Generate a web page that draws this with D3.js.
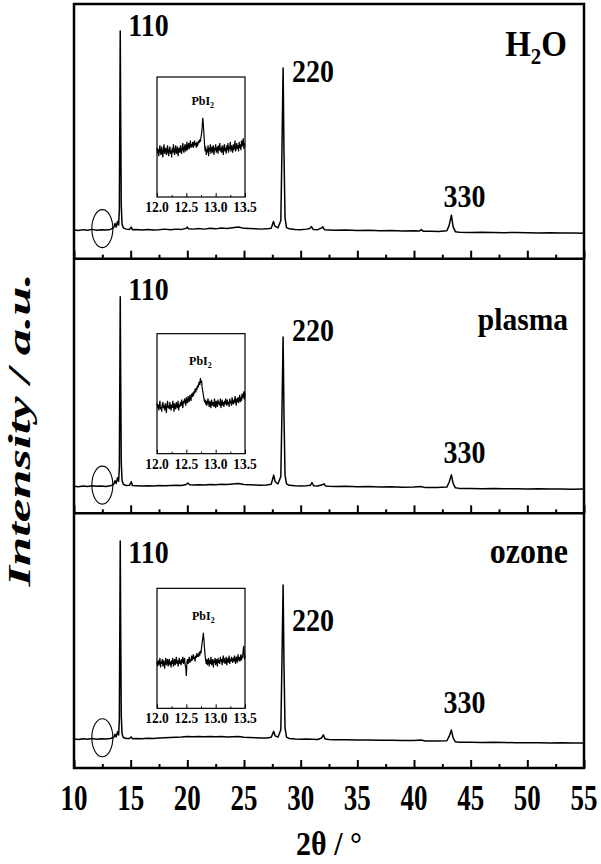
<!DOCTYPE html>
<html>
<head>
<meta charset="utf-8">
<script src="https://cdn.jsdelivr.net/npm/d3@7"></script>
<style>
  html, body { margin: 0; padding: 0; background: #fff; }
  svg { display: block; font-family: "Liberation Serif", "Times New Roman", serif; }
</style>
</head>
<body>
<svg id="chart" width="601" height="864"></svg>
<script>
// ---- data -------------------------------------------------------------
// Sample treatments, top to bottom
const samples = ["H2O", "plasma", "ozone"];

// Full XRD scans: [2θ (deg), intensity (a.u., 0-1000 per panel)]
const h2oScan = [
  [10.0,113],[10.4,111],[10.8,114],[11.2,112],[11.6,115],[12.0,112],[12.4,114],[12.8,113],[13.2,115],[13.5,121],
  [13.62,138],[13.72,124],[13.84,146],[13.94,132],[14.0,190],[14.04,520],[14.08,894],[14.12,560],[14.17,210],[14.24,136],
  [14.35,121],[14.6,116],[14.9,115],[15.05,124],[15.15,114],[15.5,115],[16.0,113],[16.5,115],[17.0,113],[17.5,114],
  [18.0,116],[18.5,114],[19.0,116],[19.5,115],[19.9,119],[20.0,124],[20.1,117],[20.5,116],[21.0,118],[21.5,116],
  [22.0,119],[22.5,117],[23.0,120],[23.5,118],[24.0,121],[24.5,124],[25.0,119],[25.5,118],[26.0,117],[26.5,116],
  [27.0,117],[27.4,119],[27.6,146],[27.72,128],[28.0,121],[28.25,150],[28.35,430],[28.45,749],[28.53,410],[28.62,160],
  [28.75,122],[29.0,117],[29.5,115],[30.0,114],[30.5,116],[30.8,118],[30.95,126],[31.1,115],[31.5,114],[31.85,121],
  [31.95,125],[32.1,114],[32.5,113],[33.0,112],[34.0,113],[35.0,111],[36.0,112],[37.0,110],[38.0,111],[39.0,109],
  [40.0,110],[40.5,109],[40.65,114],[40.8,108],[41.5,108],[42.2,107],[42.9,110],[43.1,130],[43.3,171],[43.45,126],
  [43.65,106],[44.0,104],[45.0,103],[46.0,104],[47.0,103],[48.0,102],[49.0,103],[50.0,102],[51.0,101],[52.0,102],
  [53.0,101],[54.0,101],[55.0,100]
];
const plasmaScan = [
  [10.0,106],[10.4,104],[10.8,107],[11.2,105],[11.6,108],[12.0,106],[12.4,107],[12.8,105],[13.2,108],[13.5,113],
  [13.62,128],[13.72,117],[13.84,140],[13.94,126],[14.0,180],[14.04,500],[14.08,850],[14.12,530],[14.17,200],[14.24,130],
  [14.35,114],[14.6,109],[14.9,110],[15.05,124],[15.15,109],[15.5,108],[16.0,107],[16.5,108],[17.0,107],[17.5,109],
  [18.0,108],[18.5,109],[19.0,110],[19.5,109],[19.9,113],[20.05,119],[20.2,112],[20.5,111],[21.0,112],[21.5,111],
  [22.0,113],[22.5,112],[23.0,114],[23.5,113],[24.0,115],[24.5,117],[25.0,113],[25.5,112],[26.0,111],[26.5,110],
  [27.0,111],[27.4,114],[27.62,150],[27.75,124],[28.0,116],[28.25,145],[28.35,400],[28.45,692],[28.53,380],[28.62,150],
  [28.75,116],[29.0,110],[29.5,108],[30.0,107],[30.5,108],[30.85,110],[31.0,121],[31.15,108],[31.5,107],[31.9,112],
  [32.05,116],[32.2,107],[32.5,106],[33.0,105],[34.0,106],[35.0,104],[36.0,105],[37.0,103],[38.0,104],[39.0,102],
  [40.0,103],[40.6,105],[41.0,101],[42.0,101],[42.9,103],[43.1,122],[43.3,151],[43.45,118],[43.65,100],[44.0,98],
  [45.0,98],[46.0,97],[47.0,98],[48.0,97],[49.0,97],[50.0,96],[51.0,97],[52.0,96],[53.0,96],[54.0,95],[55.0,96]
];
const ozoneScan = [
  [10.0,114],[10.4,112],[10.8,115],[11.2,113],[11.6,116],[12.0,113],[12.4,115],[12.8,114],[13.2,116],[13.5,120],
  [13.62,132],[13.72,122],[13.84,142],[13.94,130],[14.0,190],[14.04,520],[14.08,891],[14.12,550],[14.17,205],[14.24,134],
  [14.35,120],[14.6,116],[14.9,116],[15.05,122],[15.15,115],[15.5,116],[16.0,115],[16.5,117],[17.0,116],[17.5,118],
  [18.0,119],[18.5,120],[19.0,121],[19.5,122],[20.0,124],[20.5,123],[21.0,124],[21.5,123],[22.0,124],[22.5,123],
  [23.0,124],[23.5,122],[24.0,123],[24.5,124],[25.0,121],[25.5,120],[26.0,119],[26.5,118],[27.0,118],[27.4,121],
  [27.62,144],[27.75,126],[28.0,121],[28.25,150],[28.35,420],[28.45,719],[28.53,400],[28.62,158],[28.75,121],[29.0,116],
  [29.5,114],[30.0,113],[30.5,114],[31.0,113],[31.5,112],[31.85,118],[32.0,130],[32.15,114],[32.5,112],[33.0,111],
  [34.0,111],[35.0,110],[36.0,110],[37.0,109],[38.0,109],[39.0,108],[40.0,108],[40.6,110],[41.0,106],[42.0,106],
  [42.9,107],[43.1,124],[43.3,149],[43.45,118],[43.65,103],[44.0,101],[45.0,101],[46.0,100],[47.0,101],[48.0,100],
  [49.0,99],[50.0,99],[51.0,99],[52.0,98],[53.0,99],[54.0,98],[55.0,98]
];

// Perovskite reflections
const peakLabels = ["110", "220", "330"];
const peakAngles = [14.08, 28.45, 43.3];

// Axis ticks
const xTicks = [10, 15, 20, 25, 30, 35, 40, 45, 50, 55];
const xMinorTicks = [12.5, 17.5, 22.5, 27.5, 32.5, 37.5, 42.5, 47.5, 52.5];

// Inset scans (12.00-13.50°, 0.01° step), intensity a.u.
const insetStart = 12.0;
const insetStep = 0.01;
const h2oInset = [
  41,36,40,34,39,43,37,35,42,38,33,40,44,36,39,41,35,38,43,37,
  34,40,42,36,39,33,41,37,44,38,35,40,43,36,38,42,34,39,41,37,
  43,38,36,41,45,39,37,42,44,38,40,46,39,42,45,40,43,47,41,44,
  42,46,41,44,47,43,45,41,46,43, 44,47,45,48,46,50,53,58,66,60,
  52,44,38,42,35,40,37,43,34,41, 38,44,36,40,42,37,43,35,41,39,
  44,37,40,42,36,43,39,45,38,41, 37,43,40,35,42,44,38,41,36,43,
  39,45,37,42,40,46,38,43,41,37, 44,39,42,47,38,41,45,40,43,38,
  46,41,44,39,47,42,45,49,40,44,43
];
const plasmaInset = [
  42,38,41,36,40,44,37,39,35,41,43,38,40,36,42,39,34,41,44,38,
  40,37,43,39,36,41,38,44,40,35,42,39,37,43,40,38,44,36,41,39,
  43,40,45,41,38,44,42,46,43,40,47,44,42,48,45,43,49,46,44,50,
  47,51,48,52,50,54,51,55,53,57, 55,58,60,57,63,59,61,55,52,49,
  46,43,45,41,44,40,43,46,42,39, 44,41,38,45,42,40,43,39,46,41,
  38,44,42,39,45,41,43,40,46,38, 42,45,40,43,39,44,41,46,42,40,
  45,41,43,39,46,42,44,40,47,43, 41,45,42,48,44,40,46,43,47,42,
  45,49,43,47,44,50,46,48,52,45,51
];
const ozoneInset = [
  39,35,40,36,38,42,34,39,37,41,35,40,38,33,39,42,36,38,41,35,
  38,41,36,39,34,40,37,42,35,38,41,36,39,43,37,40,35,39,42,37,
  40,36,41,38,43,37,39,42,36,34,27,38,41,37,40,43,38,41,39,44,
  40,42,45,41,43,39,44,42,46,43, 45,43,47,44,48,46,51,55,58,63,
  57,50,44,40,37,41,36,39,42,35, 40,37,43,36,39,41,34,40,38,42,
  36,41,39,35,42,38,40,37,43,39, 41,36,40,44,38,42,37,39,43,36,
  40,42,38,44,37,41,39,43,40,38, 42,39,44,40,37,43,41,38,45,40,
  43,39,41,45,40,44,42,49,52,41,44
];
const insetTicks = [12.0, 12.5, 13.0, 13.5];
const insetMinorTicks = [12.25, 12.75, 13.25];
const impurity = "PbI";

// ---- layout ------------------------------------------------------------
const frame = { left: 74, right: 584, top: 4, bottom: 768 };
const panelH = (frame.bottom - frame.top) / 3;
const inset = { left: 157, width: 88, height: 120, tops: [73, 75, 75] };
// peak label baselines (panel-relative), horizontal offsets, sample-name style
const labelBaselines = [[32, 78, 203], [41, 82, 204], [50, 118, 200]];
const labelDx = [8, 9, -8];
const nameBaselines = [52, 71, 50];
const nameSizes = [33, 29.5, 32];

const scans = [h2oScan, plasmaScan, ozoneScan];
const insets = [h2oInset, plasmaInset, ozoneInset];

const svg = d3.select("#chart");

const x = d3.scaleLinear().domain([10, 55]).range([frame.left, frame.right]);
const y = d3.scaleLinear().domain([0, 1000]).range([panelH, 0]);
const ix = d3.scaleLinear().domain([12.0, 13.5]).range([0, inset.width]);
const iy = d3.scaleLinear().domain([0, 100]).range([inset.height, 0]);

const line = d3.line().x(d => x(d[0])).y(d => y(d[1]));
const insetLine = d3.line()
  .x((d, i) => ix(insetStart + i * insetStep))
  .y(d => iy(d));

// bold text, stretched vertically
function label(g, str, px, py, size, sy, anchor) {
  return g.append("text")
    .attr("transform", `translate(${px},${py}) scale(1,${sy})`)
    .attr("text-anchor", anchor)
    .style("font-size", size + "px")
    .style("font-weight", "bold")
    .attr("fill", "#000")
    .text(str);
}

samples.forEach((name, p) => {
  const g = svg.append("g").attr("transform", `translate(0,${frame.top + p * panelH})`);

  // inward ticks along the bottom of each panel
  g.append("g").attr("transform", `translate(0,${panelH})`)
    .call(d3.axisTop(x).tickValues(xTicks).tickSize(8).tickFormat(""))
    .call(a => a.select(".domain").remove())
    .selectAll("line").attr("stroke", "#000").attr("stroke-width", 2);
  g.append("g").attr("transform", `translate(0,${panelH})`)
    .call(d3.axisTop(x).tickValues(xMinorTicks).tickSize(4).tickFormat(""))
    .call(a => a.select(".domain").remove())
    .selectAll("line").attr("stroke", "#000").attr("stroke-width", 2);

  // diffraction pattern
  g.append("path").datum(scans[p])
    .attr("d", line)
    .attr("fill", "none")
    .attr("stroke", "#000")
    .attr("stroke-width", 1.5)
    .attr("stroke-linejoin", "round");

  // circle marking the PbI2 region
  const base = scans[p].find(d => d[0] >= 12.4);
  g.append("ellipse")
    .attr("cx", x(12.5)).attr("cy", y(base[1]) - 1)
    .attr("rx", 10.5).attr("ry", 19)
    .attr("fill", "none").attr("stroke", "#000").attr("stroke-width", 1.1);

  // reflection labels
  peakLabels.forEach((t, k) => {
    label(g, t, x(peakAngles[k]) + labelDx[k], labelBaselines[p][k], 28, 1.1, "start");
  });

  // sample name
  if (name === "H2O") {
    const t = g.append("text")
      .attr("transform", `translate(567,${nameBaselines[p]}) scale(1,1.1)`)
      .attr("text-anchor", "end")
      .style("font-size", nameSizes[p] + "px").style("font-weight", "bold");
    t.append("tspan").text("H");
    t.append("tspan").text("2").style("font-size", "21px").attr("dy", 7);
    t.append("tspan").text("O").attr("dy", -7);
  } else {
    label(g, name, 568, nameBaselines[p], nameSizes[p], 1.1, "end");
  }

  // inset: zoom on 12.0-13.5°
  const ig = g.append("g").attr("transform", `translate(${inset.left},${inset.tops[p]})`);
  ig.append("rect")
    .attr("width", inset.width).attr("height", inset.height)
    .attr("fill", "#fff").attr("stroke", "#000").attr("stroke-width", 1.2);
  ig.append("g").attr("transform", `translate(0,${inset.height})`)
    .call(d3.axisTop(ix).tickValues(insetTicks).tickSize(4).tickFormat(""))
    .call(a => a.select(".domain").remove())
    .selectAll("line").attr("stroke", "#000").attr("stroke-width", 1);
  ig.append("g").attr("transform", `translate(0,${inset.height})`)
    .call(d3.axisTop(ix).tickValues(insetMinorTicks).tickSize(2).tickFormat(""))
    .call(a => a.select(".domain").remove())
    .selectAll("line").attr("stroke", "#000").attr("stroke-width", 1);
  ig.append("path").datum(insets[p])
    .attr("d", insetLine)
    .attr("fill", "none").attr("stroke", "#000").attr("stroke-width", 1.2);
  insetTicks.forEach(t => {
    label(ig, d3.format(".1f")(t), ix(t), inset.height + 15, 13.5, 1.15, "middle");
  });
  // impurity label above its peak
  const vals = insets[p];
  const top = d3.maxIndex(vals);
  const pl = ig.append("text")
    .attr("transform", `translate(${ix(insetStart + top * insetStep)},${iy(vals[top]) - 13}) scale(1,1.1)`)
    .attr("text-anchor", "middle")
    .style("font-size", "12px").style("font-weight", "bold");
  pl.append("tspan").text(impurity);
  pl.append("tspan").text("2").style("font-size", "8px").attr("dy", 3);
});

// frame and panel dividers
svg.append("rect")
  .attr("x", frame.left).attr("y", frame.top)
  .attr("width", frame.right - frame.left).attr("height", frame.bottom - frame.top)
  .attr("fill", "none").attr("stroke", "#000").attr("stroke-width", 2.5);
[1, 2].forEach(k => {
  svg.append("line")
    .attr("x1", frame.left).attr("x2", frame.right)
    .attr("y1", frame.top + k * panelH).attr("y2", frame.top + k * panelH)
    .attr("stroke", "#000").attr("stroke-width", 2.5);
});

// x tick labels
xTicks.forEach(t => label(svg, String(t), x(t), 810, 27, 1.35, "middle"));

// axis titles
label(svg, "2θ / °", (frame.left + frame.right) / 2, 855, 30, 1.15, "middle");
svg.append("text")
  .attr("transform", "translate(30,430) rotate(-90) scale(1.7,1)")
  .attr("text-anchor", "middle")
  .style("font-size", "31px").style("font-weight", "bold").style("font-style", "italic")
  .text("Intensity / a.u.");
</script>
</body>
</html>
